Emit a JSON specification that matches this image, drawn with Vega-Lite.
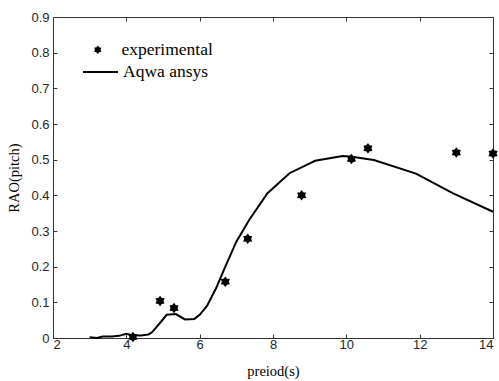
{
  "$schema": "https://vega.github.io/schema/vega-lite/v6.json",
  "width": 440,
  "height": 321,
  "autosize": {"type": "none"},
  "padding": {"left": 53, "top": 17, "right": 6, "bottom": 43},
  "background": "white",
  "datasets": {
    "line": [
      {"period": 3.0, "rao": 0.002, "series": "Aqwa ansys"},
      {"period": 3.2, "rao": 0.0, "series": "Aqwa ansys"},
      {"period": 3.35, "rao": 0.004, "series": "Aqwa ansys"},
      {"period": 3.6, "rao": 0.004, "series": "Aqwa ansys"},
      {"period": 3.8, "rao": 0.006, "series": "Aqwa ansys"},
      {"period": 4.0, "rao": 0.012, "series": "Aqwa ansys"},
      {"period": 4.15, "rao": 0.008, "series": "Aqwa ansys"},
      {"period": 4.4, "rao": 0.007, "series": "Aqwa ansys"},
      {"period": 4.6, "rao": 0.01, "series": "Aqwa ansys"},
      {"period": 4.7, "rao": 0.016, "series": "Aqwa ansys"},
      {"period": 4.9, "rao": 0.04, "series": "Aqwa ansys"},
      {"period": 5.1, "rao": 0.065, "series": "Aqwa ansys"},
      {"period": 5.35, "rao": 0.067, "series": "Aqwa ansys"},
      {"period": 5.6, "rao": 0.052, "series": "Aqwa ansys"},
      {"period": 5.85, "rao": 0.053, "series": "Aqwa ansys"},
      {"period": 6.0, "rao": 0.065, "series": "Aqwa ansys"},
      {"period": 6.2, "rao": 0.09, "series": "Aqwa ansys"},
      {"period": 6.45, "rao": 0.14, "series": "Aqwa ansys"},
      {"period": 6.7, "rao": 0.2, "series": "Aqwa ansys"},
      {"period": 7.0, "rao": 0.27, "series": "Aqwa ansys"},
      {"period": 7.35, "rao": 0.331, "series": "Aqwa ansys"},
      {"period": 7.85, "rao": 0.406, "series": "Aqwa ansys"},
      {"period": 8.45, "rao": 0.462, "series": "Aqwa ansys"},
      {"period": 9.15, "rao": 0.497, "series": "Aqwa ansys"},
      {"period": 9.9, "rao": 0.51, "series": "Aqwa ansys"},
      {"period": 10.1, "rao": 0.509, "series": "Aqwa ansys"},
      {"period": 10.75, "rao": 0.499, "series": "Aqwa ansys"},
      {"period": 11.9, "rao": 0.461, "series": "Aqwa ansys"},
      {"period": 12.9, "rao": 0.406, "series": "Aqwa ansys"},
      {"period": 14.0, "rao": 0.354, "series": "Aqwa ansys"}
    ],
    "pts": [
      {"period": 4.18, "rao": 0.003, "series": "experimental"},
      {"period": 4.92, "rao": 0.104, "series": "experimental"},
      {"period": 5.3, "rao": 0.084, "series": "experimental"},
      {"period": 6.7, "rao": 0.158, "series": "experimental"},
      {"period": 7.31, "rao": 0.278, "series": "experimental"},
      {"period": 8.78, "rao": 0.4, "series": "experimental"},
      {"period": 10.14, "rao": 0.502, "series": "experimental"},
      {"period": 10.59, "rao": 0.532, "series": "experimental"},
      {"period": 13.0, "rao": 0.52, "series": "experimental"},
      {"period": 14.0, "rao": 0.517, "series": "experimental"}
    ]
  },
  "layer": [
    {
      "data": {"name": "line"},
      "mark": {"type": "line", "strokeWidth": 2, "clip": false},
      "encoding": {
        "x": {
          "field": "period", "type": "quantitative",
          "scale": {"domain": [2, 14], "nice": false, "zero": false},
          "axis": {"orient": "bottom", "values": [2, 4, 6, 8, 10, 12, 14], "title": "preiod(s)", "grid": false,
            "offset": -4, "domain": false, "tickSize": 4, "labelPadding": 0, "titlePadding": 13}
        },
        "y": {
          "field": "rao", "type": "quantitative",
          "scale": {"domain": [0, 0.9], "nice": false},
          "axis": {"orient": "left", "values": [0, 0.1, 0.2, 0.3, 0.4, 0.5, 0.6, 0.7, 0.8, 0.9], "format": ".1~f",
            "title": "RAO(pitch)", "grid": false, "offset": -4, "domain": false, "tickSize": 4, "labelPadding": 4, "titlePadding": 9}
        },
        "color": {
          "field": "series", "type": "nominal",
          "scale": {"domain": ["Aqwa ansys"], "range": ["black"]},
          "legend": {"orient": "none", "legendX": 29, "legendY": 36.5, "title": null, "padding": 0,
            "symbolType": "stroke", "symbolSize": 1225, "symbolStrokeWidth": 2, "labelOffset": 4,
            "labelFont": "Liberation Serif", "labelFontSize": 17.5, "labelColor": "black"}
        }
      }
    },
    {
      "data": {"name": "pts"},
      "mark": {"type": "point", "filled": true, "color": "black", "opacity": 1, "size": 110, "clip": false},
      "encoding": {
        "x": {
          "field": "period", "type": "quantitative",
          "axis": {"orient": "top", "values": [2, 4, 6, 8, 10, 12, 14], "labels": false, "title": null, "grid": false,
            "offset": -4, "domain": false, "tickSize": 4}
        },
        "y": {
          "field": "rao", "type": "quantitative",
          "axis": {"orient": "right", "values": [0, 0.1, 0.2, 0.3, 0.4, 0.5, 0.6, 0.7, 0.8, 0.9], "labels": false, "title": null, "grid": false,
            "offset": -4, "domain": false, "tickSize": 4}
        },
        "shape": {
          "field": "series", "type": "nominal",
          "scale": {"domain": ["experimental"], "range": ["M0,-1L0.33,-0.57L0.866,-0.5L0.66,0L0.866,0.5L0.33,0.57L0,1L-0.33,0.57L-0.866,0.5L-0.66,0L-0.866,-0.5L-0.33,-0.57Z"]},
          "legend": {"orient": "none", "legendX": 36, "legendY": 24, "title": null, "padding": 0,
            "symbolSize": 70, "symbolFillColor": "black", "symbolStrokeWidth": 0, "labelOffset": 15,
            "labelFont": "Liberation Serif", "labelFontSize": 17.5, "labelColor": "black"}
        }
      }
    }
  ],
  "resolve": {"axis": {"x": "independent", "y": "independent"}},
  "config": {
    "view": {"stroke": "#333", "strokeWidth": 1},
    "axis": {
      "domainColor": "#333", "tickColor": "#333",
      "labelFont": "Liberation Sans", "labelFontSize": 13, "labelColor": "#262626",
      "titleFont": "Liberation Serif", "titleFontSize": 14.5, "titleFontWeight": "normal", "titleColor": "black"
    }
  }
}
